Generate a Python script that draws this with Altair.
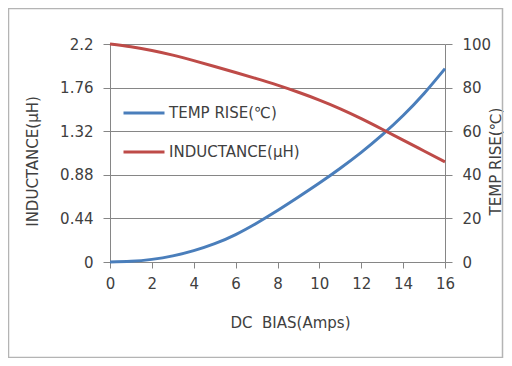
import altair as alt
import pandas as pd

# DC bias current (A)
bias = [0, 1, 2, 3, 4, 5, 6, 7, 8, 9, 10, 11, 12, 13, 14, 15, 16]
# Temperature rise (deg C), right axis
temp_rise = [0, 0.3, 1.2, 2.8, 5.2, 8.4, 12.6, 17.8, 23.6, 29.8, 36.2, 43.0, 50.3, 58.3, 67.2, 77.3, 88.7]
# Inductance (uH), left axis
inductance = [2.2, 2.172, 2.135, 2.088, 2.032, 1.973, 1.912, 1.85, 1.785, 1.713, 1.634, 1.546, 1.447, 1.34, 1.23, 1.12, 1.01]

series_names = ["TEMP RISE(℃)", "INDUCTANCE(μH)"]
series_colors = ["#4a7ebb", "#be4b48"]
ind_ticks = [0, 0.44, 0.88, 1.32, 1.76, 2.2]
temp_ticks = [0, 20, 40, 60, 80, 100]
x_ticks = [0, 2, 4, 6, 8, 10, 12, 14, 16]

df = pd.DataFrame({"bias": bias, "temp": temp_rise, "ind": inductance})

FONT = "DejaVu Sans"
TXT = "#404040"
GRID = "#868686"

color = alt.Color(
    "series:N",
    scale=alt.Scale(domain=series_names, range=series_colors),
    legend=alt.Legend(
        title=None, orient="none", legendX=12, legendY=47,
        symbolType="stroke", symbolSize=1681, symbolStrokeWidth=3,
        labelFont=FONT, labelFontSize=15, labelColor=TXT,
        rowPadding=9, labelOffset=3, symbolOffset=0,
    ),
)

xenc = alt.X(
    "bias:Q",
    scale=alt.Scale(domain=[0, 16], nice=False),
    axis=alt.Axis(
        values=x_ticks, title="DC\u00a0 BIAS(Amps)", grid=False, labelFlush=False,
        domainColor=GRID, tickColor=GRID, tickSize=6,
        labelFont=FONT, labelFontSize=15, labelColor=TXT, labelPadding=8,
        titleFont=FONT, titleFontSize=15, titleFontWeight="normal", titleColor=TXT,
        titleX=180, titleY=60, titleBaseline="middle",
    ),
)

ind_line = alt.Chart(df).transform_calculate(series="'INDUCTANCE(μH)'").mark_line(
    strokeWidth=3, interpolate="natural"
).encode(
    x=xenc,
    y=alt.Y(
        "ind:Q",
        scale=alt.Scale(domain=[0, 2.2], nice=False, zero=True),
        axis=alt.Axis(
            orient="left", values=ind_ticks, labelExpr="format(datum.value, '~g')",
            title="INDUCTANCE(μH)", grid=True, gridColor=GRID, gridWidth=1, labelFlush=False,
            domainColor=GRID, tickColor=GRID, tickSize=7,
            labelFont=FONT, labelFontSize=15, labelColor=TXT, labelPadding=10,
            titleFont=FONT, titleFontSize=15, titleFontWeight="normal", titleColor=TXT,
            titleAngle=270, titleX=-78, titleY=117, titleAlign="center", titleBaseline="middle",
        ),
    ),
    color=color,
)

temp_line = alt.Chart(df).transform_calculate(series="'TEMP RISE(℃)'").mark_line(
    strokeWidth=3, interpolate="natural"
).encode(
    x=xenc,
    y=alt.Y(
        "temp:Q",
        scale=alt.Scale(domain=[0, 100], nice=False),
        axis=alt.Axis(
            orient="right", values=temp_ticks, title="TEMP RISE(℃)", grid=False, labelFlush=False,
            domainColor=GRID, tickColor=GRID, tickSize=7,
            labelFont=FONT, labelFontSize=15, labelColor=TXT, labelPadding=10,
            titleFont=FONT, titleFontSize=15, titleFontWeight="normal", titleColor=TXT,
            titleAngle=270, titleX=50, titleY=117, titleAlign="center", titleBaseline="middle",
        ),
    ),
    color=color,
)

border = alt.Chart(pd.DataFrame({"k": [0]})).mark_rect(
    fill=None, stroke="#b4b4b4", strokeWidth=1.5, clip=False
).encode(
    x=alt.value(-101.5), x2=alt.value(392.5), y=alt.value(-35.5), y2=alt.value(313.5)
)

chart = alt.layer(border, temp_line, ind_line).resolve_scale(y="independent").properties(
    width=335, height=218,
    autosize=alt.AutoSizeParams(type="none"),
    padding={"left": 102, "top": 36, "right": 59, "bottom": 96},
    background="white",
).configure_view(stroke=None)

chart.save("out.html", embed_options={"renderer": "svg", "actions": False})
